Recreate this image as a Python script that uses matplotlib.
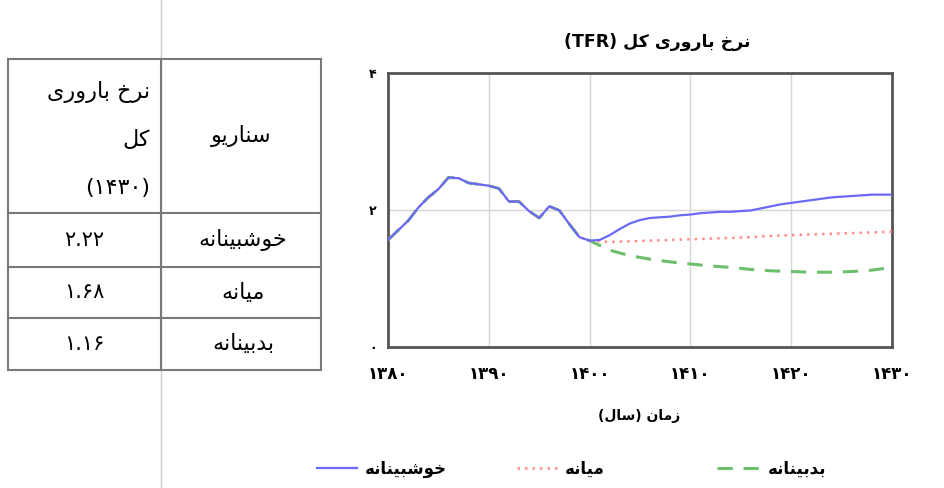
import numpy as np
import matplotlib
matplotlib.use('Agg')
import matplotlib.pyplot as plt

plt.rcParams['font.family'] = ['DejaVu Sans']

# ---- data ----
years_hist = list(range(1380, 1401))
tfr_hist = [1.56, 1.70, 1.84, 2.03, 2.18, 2.30, 2.47, 2.46, 2.39, 2.37, 2.35,
            2.31, 2.12, 2.12, 1.98, 1.88, 2.05, 1.99, 1.79, 1.60, 1.55]

years_opt = list(range(1401, 1431))
tfr_opt = [1.56, 1.63, 1.72, 1.80, 1.85, 1.88, 1.89, 1.90, 1.92, 1.93,
           1.95, 1.96, 1.97, 1.97, 1.98, 1.99, 2.02, 2.05, 2.08, 2.10,
           2.12, 2.14, 2.16, 2.18, 2.19, 2.20, 2.21, 2.22, 2.22, 2.22]

years_proj = list(range(1402, 1431, 2))
tfr_mid = [1.53, 1.54, 1.55, 1.56, 1.57, 1.58, 1.59, 1.60, 1.62, 1.63,
           1.64, 1.65, 1.66, 1.67, 1.68]
tfr_pes = [1.41, 1.33, 1.28, 1.24, 1.21, 1.18, 1.16, 1.13, 1.11, 1.10,
           1.09, 1.09, 1.10, 1.12, 1.16]

scenarios = ['خوشبینانه', 'میانه', 'بدبینانه']
tfr_1430 = ['۲.۲۲', '۱.۶۸', '۱.۱۶']
x_ticks = [1380, 1390, 1400, 1410, 1420, 1430]
y_ticks = [0, 2, 4]

title = 'نرخ باروری کل (TFR)'
x_label = 'زمان (سال)'
head_scenario = 'سناریو'
head_value = ['نرخ باروری', 'کل', '(۱۴۳۰)']

# ---- minimal arabic-script shaping (matplotlib has no bidi / joining) ----
FORMS = {
    '\u0627': ('\uFE8D', '\uFE8E'),
    '\u062F': ('\uFEA9', '\uFEAA'),
    '\u0631': ('\uFEAD', '\uFEAE'),
    '\u0632': ('\uFEAF', '\uFEB0'),
    '\u0648': ('\uFEED', '\uFEEE'),
    '\u0628': ('\uFE8F', '\uFE90', '\uFE91', '\uFE92'),
    '\u062E': ('\uFEA5', '\uFEA6', '\uFEA7', '\uFEA8'),
    '\u0633': ('\uFEB1', '\uFEB2', '\uFEB3', '\uFEB4'),
    '\u0634': ('\uFEB5', '\uFEB6', '\uFEB7', '\uFEB8'),
    '\u0644': ('\uFEDD', '\uFEDE', '\uFEDF', '\uFEE0'),
    '\u0645': ('\uFEE1', '\uFEE2', '\uFEE3', '\uFEE4'),
    '\u0646': ('\uFEE5', '\uFEE6', '\uFEE7', '\uFEE8'),
    '\u0647': ('\uFEE9', '\uFEEA', '\uFEEB', '\uFEEC'),
    '\u06CC': ('\uFBFC', '\uFBFD', '\uFBFE', '\uFBFF'),
    '\u06A9': ('\uFB8E', '\uFB8F', '\uFB90', '\uFB91'),
}


def shape(word):
    out = []
    for i, ch in enumerate(word):
        f = FORMS.get(ch)
        if f is None:
            out.append(ch)
            continue
        prev = word[i - 1] if i > 0 else ''
        nxt = word[i + 1] if i < len(word) - 1 else ''
        jp = prev in FORMS and len(FORMS[prev]) == 4
        jn = len(f) == 4 and nxt in FORMS
        if jp and jn:
            out.append(f[3])
        elif jp:
            out.append(f[1])
        elif jn:
            out.append(f[2])
        else:
            out.append(f[0])
    return ''.join(out)


def fa(text):
    s = shape(text)
    runs = []
    for ch in s:
        ltr = (ch.isascii() and ch.isalnum()) or ('\u06F0' <= ch <= '\u06F9') or ch == '.'
        if runs and runs[-1][0] == ltr:
            runs[-1][1].append(ch)
        else:
            runs.append([ltr, [ch]])
    mirror = {'(': ')', ')': '('}
    parts = []
    for ltr, chars in reversed(runs):
        if ltr:
            parts.append(''.join(chars))
        else:
            parts.append(''.join(mirror.get(c, c) for c in reversed(chars)))
    return ''.join(parts)


def fa_num(n):
    return str(n).translate(str.maketrans('0123456789', '۰۱۲۳۴۵۶۷۸۹'))


W, H = 944, 488
fig = plt.figure(figsize=(W / 100, H / 100), dpi=100)

# overlay in pixel coords for the table and page rule
ov = fig.add_axes([0, 0, 1, 1])
ov.set_xlim(0, W)
ov.set_ylim(H, 0)
ov.set_axis_off()

# chart
ax = fig.add_axes([388 / W, 1 - 347 / H, 504 / W, 274.5 / H])

blue = '#6a6af8'
red = '#ff8c8c'
green = '#6cbf6c'

l_pes, = ax.plot(years_hist + years_proj, tfr_hist + tfr_pes, color=green, lw=2.2,
                 ls=(0, (5, 3.5)), zorder=3)
l_mid, = ax.plot(years_hist + years_proj, tfr_hist + tfr_mid, color=red, lw=1.8,
                 ls=(0, (1, 2)), zorder=3)
l_opt, = ax.plot(years_hist + years_opt, tfr_hist + tfr_opt, color=blue, lw=1.6,
                 zorder=4)

ax.set_xlim(1380, 1430)
ax.set_ylim(0, 4)
ax.set_xticks(x_ticks)
ax.set_xticklabels([fa_num(t) for t in x_ticks], fontweight='bold', fontsize=12)
ax.set_yticks(y_ticks)
ax.set_yticklabels([fa_num(t) for t in y_ticks], fontweight='bold', fontsize=9)
ax.tick_params(length=0, pad=8)
ax.tick_params(axis='x', pad=13)
ax.grid(True, color='#d6d6d6', lw=1)
for sp in ax.spines.values():
    sp.set_color('#555555')
    sp.set_linewidth(2)

fig.text(657 / W, 1 - 42 / H, fa(title), ha='center', va='center',
         fontsize=12.5, fontweight='bold')
fig.text(639 / W, 1 - 416 / H, fa(x_label), ha='center', va='center',
         fontsize=10, fontweight='bold')

# one legend per scenario, placed where the reference puts them
leg_items = [(l_opt, scenarios[0], 317, 2.4), (l_mid, scenarios[1], 517, 2.4),
             (l_pes, scenarios[2], 717, 2.6)]
for handle, name, x0, hl in leg_items:
    lg = fig.legend([handle], [fa(name)], loc='center left', frameon=False,
                    bbox_to_anchor=(x0 / W, 1 - 469 / H), handlelength=hl,
                    handletextpad=0.45, borderpad=0, borderaxespad=0,
                    prop={'weight': 'bold', 'size': 12})

# page rule and table
ov.plot([161, 161], [0, H], color='#c8c8c8', lw=1)
tl, tm, tr = 8, 161, 321
rows_y = [59, 213, 267, 318, 370]
lc = '#7a7a7a'
for y in rows_y:
    ov.plot([tl, tr], [y, y], color=lc, lw=1.5)
for x in (tl, tm, tr):
    ov.plot([x, x], [rows_y[0], rows_y[-1]], color=lc, lw=1.5)

ov.text((tm + tr) / 2, (rows_y[0] + rows_y[1]) / 2, fa(head_scenario),
        ha='center', va='center', fontsize=16)
for txt, y in zip(head_value, [92, 140, 188]):
    ov.text(150, y, fa(txt), ha='right', va='center', fontsize=16)
for i, (name, val) in enumerate(zip(scenarios, tfr_1430)):
    yc = (rows_y[i + 1] + rows_y[i + 2]) / 2
    ov.text((tm + tr) / 2 + 2, yc, fa(name), ha='center', va='center', fontsize=16)
    ov.text((tl + tm) / 2, yc, fa(val), ha='center', va='center', fontsize=15)

fig.savefig('out.png', dpi=100)
